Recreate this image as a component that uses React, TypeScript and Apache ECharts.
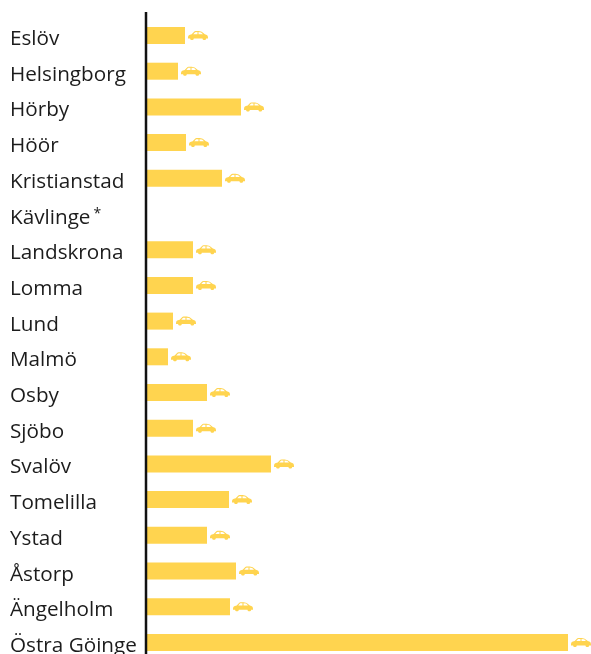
import React, { useEffect, useRef } from "react";
import * as echarts from "echarts";

const categories = ["Eslöv", "Helsingborg", "Hörby", "Höör", "Kristianstad", "Kävlinge*", "Landskrona", "Lomma", "Lund", "Malmö", "Osby", "Sjöbo", "Svalöv", "Tomelilla", "Ystad", "Åstorp", "Ängelholm", "Östra Göinge"];
const values: (number | null)[] = [3.8, 3.1, 9.4, 3.9, 7.5, null, 4.6, 4.6, 2.6, 2.1, 6.0, 4.6, 12.4, 8.2, 6.0, 8.9, 8.3, 42.1];

const carPath = "path://M1 12C1 8.5 3 7.5 8 6.5L13 2C15 1 24 1 27 2.5L33 6.5C37 7 39 9 39 12L39 13.5L35.5 13.5C35.5 16.8 28.5 16.8 28.5 13.5L12 13.5C12 16.8 5 16.8 5 13.5L1 13.5ZM14.5 3.2L11 6.5L19 6.5L19 3ZM21 3L21 6.5L29.5 6.5L26 3.6Z";
const gold = "#FFD44F";

export default function App() {
  const ref = useRef<HTMLDivElement>(null);
  useEffect(() => {
    const chart = echarts.init(ref.current!, undefined, { renderer: "svg" });
    chart.setOption({
      animation: false,
      grid: { left: 147, top: 17.65, width: 444, height: 642.6, containLabel: false, outerBoundsMode: "none" },
      xAxis: { type: "value", min: 0, max: 44.4, show: false },
      yAxis: {
        type: "category",
        inverse: true,
        data: categories,
        axisLine: { show: false },
        axisTick: { show: false },
        axisLabel: {
          align: "left",
          margin: 137,
          color: "#1c1c1c",
          fontFamily: "Open Sans",
          fontSize: 20.7,
          padding: [3, 0, 0, 0],
          formatter: (v: string) => (v.endsWith("*") ? `${v.slice(0, -1)}{s|*}` : v),
          rich: {
            s: { fontFamily: "Open Sans", fontSize: 14, color: "#1c1c1c", padding: [0, 0, 7, 3] },
          },
        },
      },
      series: [
        {
          type: "bar",
          data: values,
          barWidth: 17,
          itemStyle: { color: gold },
        },
        {
          type: "scatter",
          data: values.map((v, i) => (v == null ? null : [v, i])),
          symbol: carPath,
          symbolSize: [20, 9],
          symbolOffset: [13, 0],
          itemStyle: { color: gold, opacity: 1 },
        },
      ],
      graphic: [
        {
          type: "line",
          shape: { x1: 146, y1: 12, x2: 146, y2: 654 },
          style: { stroke: "#111111", lineWidth: 2.5 },
          z: 10,
        },
      ],
    });
    return () => chart.dispose();
  }, []);
  return <div ref={ref} style={{ position: "fixed", left: 0, top: 0, width: 591, height: 654 }} />;
}
